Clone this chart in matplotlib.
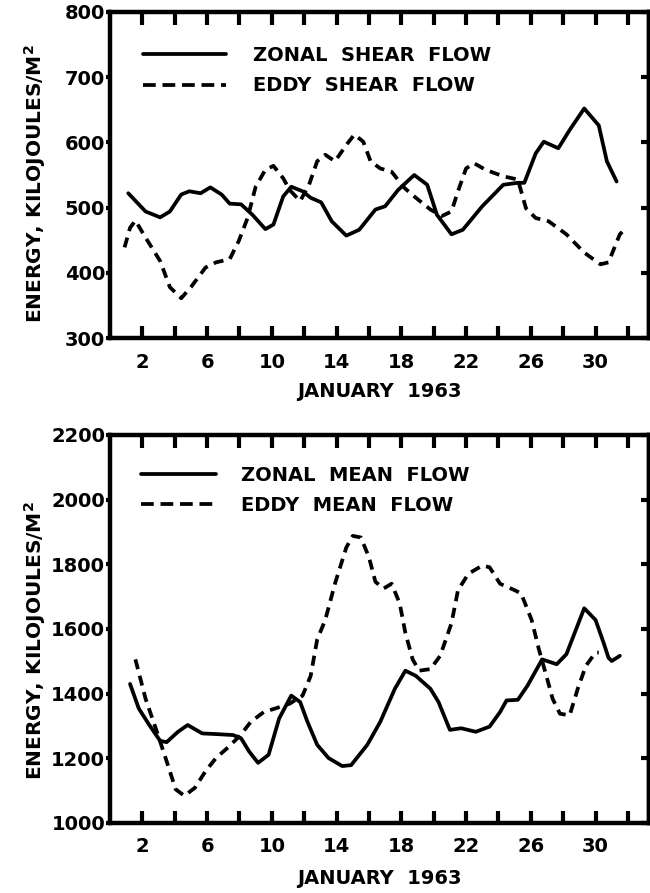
import numpy as np
import matplotlib
matplotlib.use("Agg")
import matplotlib.pyplot as plt
from matplotlib.lines import Line2D

# values (day of January 1963, energy in kJ/m^2)
zs_day = [1.13, 2.2, 3.1, 3.7, 4.4, 4.9, 5.6, 6.2, 6.9, 7.4, 8.1, 8.8, 9.6, 10.1,
          10.7, 11.2, 11.9, 12.4, 13.05, 13.7, 14.6, 15.4, 16.4, 17.0, 17.8, 18.8,
          19.6, 20.2, 21.1, 21.8, 23.0, 24.3, 25.2, 25.6, 26.3, 26.8, 27.7, 28.4,
          29.3, 30.2, 30.7, 31.3]
zs_val = [522, 494, 485, 494, 520, 525, 522, 531, 520, 506, 505, 489, 467, 474,
          517, 532, 525, 515, 508, 479, 457, 466, 497, 502, 527, 550, 535, 489,
          459, 466, 502, 535, 538, 538, 583, 601, 591, 619, 652, 626, 571, 540]

es_day = [0.9, 1.24, 1.57, 2.2, 3.1, 3.7, 4.4, 5.0, 5.9, 6.55, 7.4, 7.96, 8.5, 9.0,
          9.6, 10.1, 10.7, 11.1, 11.75, 12.3, 12.8, 13.3, 13.9, 14.6, 15.1, 15.65,
          16.1, 16.7, 17.4, 18.2, 18.9, 19.8, 20.5, 21.1, 21.5, 22.0, 22.5, 23.2,
          24.3, 25.2, 25.7, 26.3, 27.1, 28.2, 29.3, 30.3, 30.8, 31.5, 31.7]
es_val = [439, 469, 480, 454, 418, 378, 361, 378, 408, 416, 421, 449, 484, 532,
          558, 564, 545, 527, 510, 535, 571, 581, 571, 596, 612, 601, 571, 560,
          555, 530, 515, 497, 487, 494, 525, 560, 568, 558, 548, 543, 499, 484,
          479, 459, 431, 413, 416, 459, 464]

zm_day = [1.24, 1.78, 2.43, 3.1, 3.5, 4.2, 4.8, 5.7, 6.55, 7.6, 8.1, 8.6, 9.15, 9.8,
          10.45, 11.2, 11.75, 12.2, 12.8, 13.5, 14.35, 14.9, 15.9, 16.7, 17.6, 18.25,
          18.9, 19.8, 20.3, 21.0, 21.7, 22.6, 23.45, 24.1, 24.5, 25.2, 25.8, 26.7,
          27.6, 28.2, 29.3, 30.0, 30.5, 30.8, 31.0, 31.5]
zm_val = [1430, 1354, 1303, 1254, 1250, 1282, 1303, 1277, 1275, 1272, 1262, 1221,
          1186, 1211, 1323, 1394, 1374, 1313, 1242, 1201, 1176, 1179, 1242, 1313,
          1415, 1471, 1455, 1415, 1374, 1288, 1293, 1282, 1298, 1343, 1379, 1381,
          1425, 1506, 1491, 1522, 1664, 1628, 1557, 1511, 1501, 1517]

em_day = [1.57, 2.2, 2.9, 3.5, 4.06, 4.6, 5.25, 5.9, 6.55, 7.3, 8.07, 8.7, 9.5, 10.2,
          11.1, 11.9, 12.4, 12.8, 13.3, 13.9, 14.6, 15.0, 15.5, 16.0, 16.4, 16.9,
          17.4, 17.9, 18.25, 18.7, 19.1, 19.8, 20.4, 21.1, 21.5, 22.15, 23.0, 23.45,
          24.1, 25.0, 25.4, 26.05, 26.5, 26.9, 27.35, 27.8, 28.4, 28.9, 29.4, 30.0, 30.2]
em_val = [1506, 1384, 1282, 1191, 1104, 1084, 1109, 1160, 1201, 1234, 1272, 1313,
          1343, 1354, 1369, 1394, 1455, 1567, 1628, 1740, 1852, 1888, 1883, 1822,
          1746, 1725, 1740, 1679, 1588, 1506, 1471, 1476, 1517, 1618, 1720, 1771,
          1796, 1791, 1740, 1720, 1710, 1628, 1537, 1466, 1384, 1338, 1333, 1415,
          1486, 1527, 1527]

day_ticks = list(range(2, 33, 2))
day_labels = [str(d) if (d - 2) % 4 == 0 and d <= 30 else "" for d in day_ticks]
top_yticks = [300, 400, 500, 600, 700, 800]
bot_yticks = [1000, 1200, 1400, 1600, 1800, 2000, 2200]

top_names = ["ZONAL  SHEAR  FLOW", "EDDY  SHEAR  FLOW"]
bot_names = ["ZONAL  MEAN  FLOW", "EDDY  MEAN  FLOW"]
xlab = "JANUARY  1963"
ylab = "ENERGY, KILOJOULES/M$^{\\mathbf{2}}$"

plt.rcParams["font.family"] = ["DejaVu Sans"]
plt.rcParams["font.weight"] = "bold"
plt.rcParams["mathtext.default"] = "bf"

LW = 2.7
FS = 14
CURVE_DASH = (2.7, 1.8)


def style_axes(ax, yticks, ylim, ylab_y, xlab_y, xpad):
    ax.set_xlim(0, 33.3)
    ax.set_ylim(*ylim)
    for s in ax.spines.values():
        s.set_linewidth(3.2)
    ax.set_xticks(day_ticks)
    ax.set_xticklabels(day_labels, fontsize=FS, fontweight="bold")
    ax.tick_params(axis="x", direction="in", top=True, bottom=True,
                   length=9, width=3, pad=xpad)
    ax.set_yticks(yticks)
    ax.set_yticklabels([str(v) for v in yticks], fontsize=FS, fontweight="bold")
    ax.tick_params(axis="y", direction="out", left=True, right=False,
                   length=3, width=3, pad=0.5)
    sec = ax.secondary_yaxis("right")
    sec.set_yticks(yticks)
    sec.tick_params(direction="in", length=6, width=3, labelright=False)
    sec.spines["right"].set_linewidth(3.2)
    ax.set_xlabel(xlab, fontsize=FS, fontweight="bold", va="top")
    ax.xaxis.set_label_coords(0.5, xlab_y)
    ax.set_ylabel(ylab, fontsize=14.5, fontweight="bold")
    ax.yaxis.set_label_coords(-0.115, ylab_y)


def add_legend(ax, names, x0, y0, hlen, hpad):
    handles = [Line2D([], [], color="black", lw=LW, solid_capstyle="round"),
               Line2D([], [], color="black", lw=LW, dashes=(3.4, 1.8),
                      dash_capstyle="butt")]
    leg = ax.legend(handles, names, loc="upper left", bbox_to_anchor=(x0, y0),
                    frameon=False, borderpad=0, borderaxespad=0,
                    handlelength=hlen, handletextpad=hpad, labelspacing=0.58,
                    prop={"size": FS, "weight": "bold"})
    return leg


fig = plt.figure(figsize=(6.5, 8.93), dpi=100)
ax1 = fig.add_axes([0.1692, 0.6215, 0.8292, 0.3651])
ax2 = fig.add_axes([0.1692, 0.0784, 0.8292, 0.4345])

ax1.plot(zs_day, zs_val, color="black", lw=LW, solid_joinstyle="round",
         solid_capstyle="round")
ax1.plot(es_day, es_val, color="black", lw=LW, dashes=CURVE_DASH,
         dash_capstyle="butt", dash_joinstyle="round")
style_axes(ax1, top_yticks, (300, 800), 0.475, -0.135, 11)
add_legend(ax1, top_names, 0.061, 0.895, 4.27, 1.39)

ax2.plot(zm_day, zm_val, color="black", lw=LW, solid_joinstyle="round",
         solid_capstyle="round")
ax2.plot(em_day, em_val, color="black", lw=LW, dashes=CURVE_DASH,
         dash_capstyle="butt", dash_joinstyle="round")
style_axes(ax2, bot_yticks, (1000, 2200), 0.47, -0.118, 10)
add_legend(ax2, bot_names, 0.0575, 0.92, 3.86, 1.29)

fig.savefig("out.png", dpi=100, facecolor="white")
